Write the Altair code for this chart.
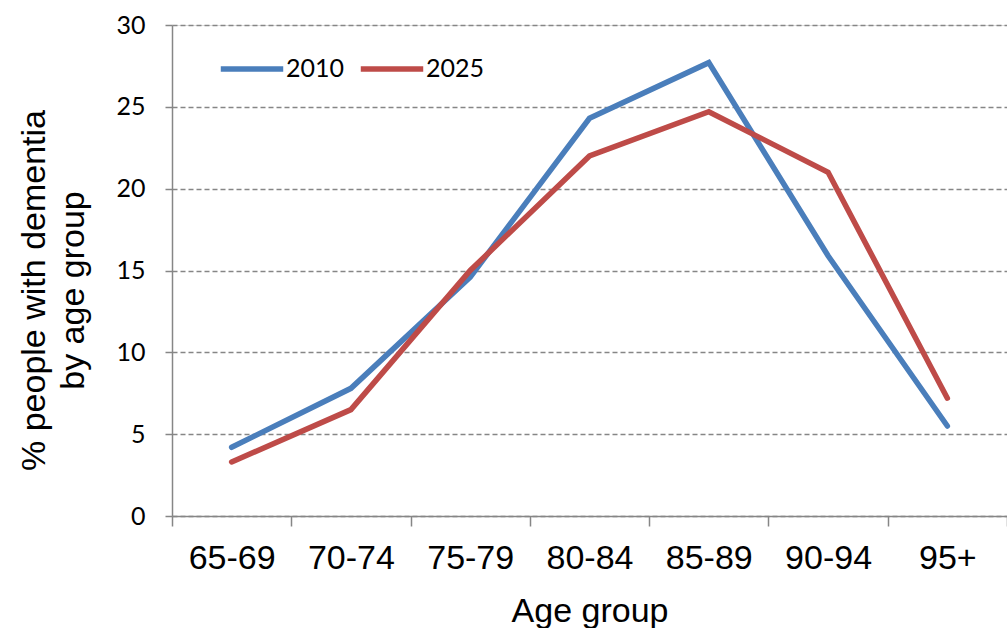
import altair as alt
import pandas as pd

# Share of people with dementia in each age group
age_groups = ["65-69", "70-74", "75-79", "80-84", "85-89", "90-94", "95+"]
pct_2010 = [4.2, 7.8, 14.6, 24.3, 27.7, 15.9, 5.5]
pct_2025 = [3.3, 6.5, 15.0, 22.0, 24.7, 21.0, 7.2]
years = ["2010", "2025"]
colors = ["#4A7EBB", "#BE4B48"]

rows = []
for g, a, b in zip(age_groups, pct_2010, pct_2025):
    rows.append({"age": g, "year": "2010", "pct": a})
    rows.append({"age": g, "year": "2025", "pct": b})
df = pd.DataFrame(rows)

axis_grey = "#868686"

chart = alt.Chart(df).mark_line(strokeWidth=5.5, strokeCap="round", strokeJoin="miter").encode(
    x=alt.X(
        "age:N",
        sort=age_groups,
        scale=alt.Scale(paddingInner=0, paddingOuter=0),
        axis=alt.Axis(
            title="Age group",
            titleFont="Liberation Sans",
            titleFontSize=34,
            titleFontWeight="normal",
            titleColor="#000000",
            titlePadding=19,
            labelFont="Liberation Sans",
            labelFontSize=34,
            labelColor="#000000",
            labelAngle=0,
            labelPadding=15,
            tickBand="extent",
            tickSize=10,
            tickColor=axis_grey,
            tickWidth=1.5,
            domainColor=axis_grey,
            domainWidth=1.5,
            grid=False,
        ),
    ),
    y=alt.Y(
        "pct:Q",
        scale=alt.Scale(domain=[0, 30], nice=False),
        axis=alt.Axis(
            title=["% people with dementia", "by age group"],
            titleFont="Liberation Sans",
            titleFontSize=34,
            titleFontWeight="normal",
            titleColor="#000000",
            titleLineHeight=39,
            titleX=-138,
            titleY=265,
            titleAngle=-90,
            titleAlign="center",
            titleBaseline="middle",
            values=[0, 5, 10, 15, 20, 25, 30],
            labelFont="Lato",
            labelFontSize=25,
            labelColor="#000000",
            labelPadding=20,
            tickSize=7,
            tickColor=axis_grey,
            tickWidth=1.5,
            domainColor=axis_grey,
            domainWidth=1.5,
            gridColor=axis_grey,
            gridDash=[5, 3],
            gridWidth=1.3,
        ),
    ),
    color=alt.Color(
        "year:N",
        scale=alt.Scale(domain=years, range=colors),
        legend=alt.Legend(
            title=None,
            orient="none",
            legendX=46,
            legendY=10,
            direction="horizontal",
            symbolType="stroke",
            symbolSize=3900,
            symbolStrokeWidth=5.5,
            labelFont="Lato",
            labelFontSize=25,
            labelColor="#000000",
            labelOffset=0,
            columnPadding=4,
        ),
    ),
).properties(
    width=835,
    height=491,
    autosize=alt.AutoSizeParams(type="none"),
    padding={"left": 172, "top": 25, "right": 0, "bottom": 112},
).configure_view(stroke=None).configure(background="#ffffff")

chart.save("out.html", embed_options={"renderer": "svg", "actions": False})
